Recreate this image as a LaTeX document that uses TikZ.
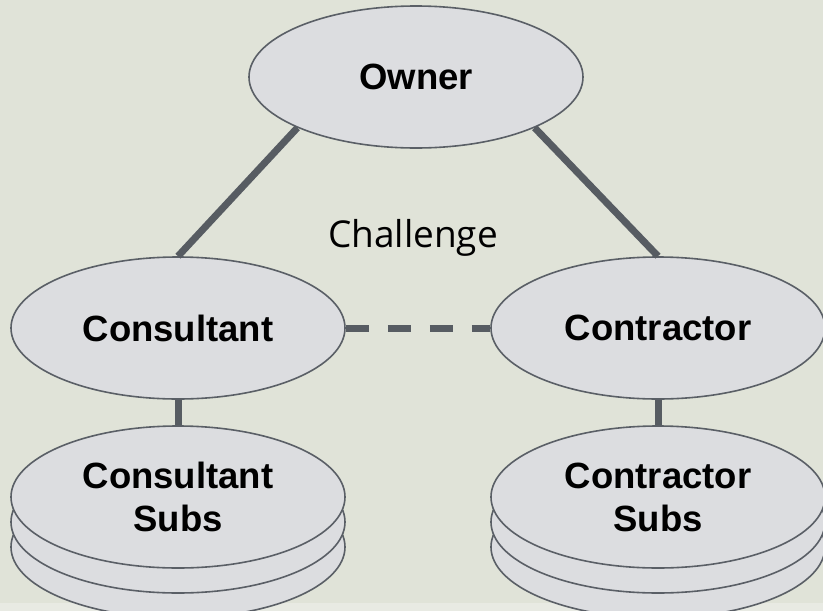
\documentclass[tikz,border=0pt]{standalone}
\usepackage{fontspec}
\setmainfont{Liberation Sans}
\newfontfamily\challengefont{Open Sans}
\usetikzlibrary{shapes.geometric}
\definecolor{bgcol}{HTML}{E0E3D8}
\definecolor{stripcol}{HTML}{E8EAE3}
\definecolor{fillcol}{HTML}{DCDDE0}
\definecolor{edgecol}{HTML}{5A5F66}
\definecolor{linkcol}{HTML}{575C62}

\begin{document}
\begin{tikzpicture}[x=1pt,y=1pt,
  party/.style={ellipse,draw=edgecol,line width=1.6pt,fill=fillcol,
    minimum width=334pt,minimum height=142pt,inner sep=0pt,align=center,
    font=\fontsize{36.5}{43}\selectfont\bfseries},
  link/.style={draw=linkcol,line width=7pt}]
\fill[bgcol] (0,0) rectangle (823,-611);
\fill[stripcol] (0,-603) rectangle (823,-611);
\useasboundingbox (0,0) rectangle (823,-611);
\node[party] (owner) at (416,-77) {Owner};
\node[party] (consultant) at (178,-328) {Consultant};
\node[party] (contractor) at (658,-328) {Contractor};
% stacked subs, lowest layer first
\foreach \dy in {50,25}
{
\node[party] at (178,-497-\dy) {};
\node[party] at (658,-497-\dy) {};
}
\node[party] (conSubs) at (178,-497) {Consultant\\Subs};
\node[party] (ctrSubs) at (658,-497) {Contractor\\Subs};
\node[font=\challengefont\fontsize{37}{44}\selectfont] (challenge) at (413,-238) {Challenge};
\foreach \from/\to in {owner.south west/consultant.north,owner.south east/contractor.north,consultant.south/conSubs.north,contractor.south/ctrSubs.north}
\draw[link] (\from) -- (\to);
\draw[link,dash pattern=on 23pt off 19pt] (consultant.east) -- (contractor.west);
\end{tikzpicture}
\end{document}
